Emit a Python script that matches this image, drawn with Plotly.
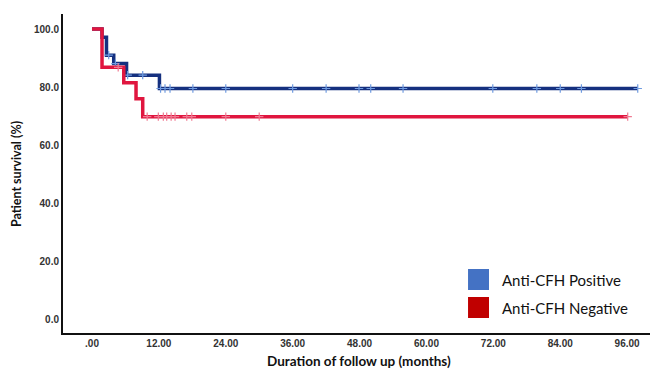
import plotly.graph_objects as go

# ---- data (months, survival %) ----
pos_event_times = [0.0, 1.8, 2.6, 3.9, 6.2, 12.1]
pos_survival = [100.0, 97.2, 91.0, 88.1, 84.1, 79.5]
pos_end_time = 97.9
pos_censor_times = [3.0, 4.2, 6.4, 9.1, 12.3, 13.1, 14.0, 18.1, 24.0, 36.0, 42.0,
                    47.9, 50.0, 55.8, 71.9, 79.8, 84.0, 87.8, 97.9]

neg_event_times = [0.0, 1.8, 5.7, 7.9, 9.1]
neg_survival = [100.0, 86.8, 81.5, 76.0, 69.8]
neg_end_time = 96.1
neg_censor_times = [4.7, 9.9, 11.9, 12.8, 13.4, 14.2, 14.9, 17.0, 17.9, 24.0, 30.0, 96.1]

x_tick_vals = [0, 12, 24, 36, 48, 60, 72, 84, 96]
x_tick_text = [".00", "12.00", "24.00", "36.00", "48.00", "60.00", "72.00", "84.00", "96.00"]
y_tick_vals = [0, 20, 40, 60, 80, 100]
y_tick_text = ["0.0", "20.0", "40.0", "60.0", "80.0", "100.0"]

legend_labels = ["Anti-CFH Positive", "Anti-CFH Negative"]
legend_colors = ["#4472C4", "#C00000"]


def surv_at(times, surv, t):
    val = surv[0]
    for ti, si in zip(times, surv):
        if t >= ti:
            val = si
    return val


fig = go.Figure()

groups = [
    (pos_event_times, pos_survival, pos_end_time, pos_censor_times, "#15307F", "#6F9BE0"),
    (neg_event_times, neg_survival, neg_end_time, neg_censor_times, "#E0163F", "#F07A92"),
]
for times, surv, end_t, cens, lc, cc in groups:
    xs = list(times) + [end_t]
    ys = list(surv) + [surv[-1]]
    fig.add_trace(go.Scatter(x=xs, y=ys, mode="lines", line=dict(color=lc, width=3.5, shape="hv"),
                             showlegend=False, hoverinfo="skip"))
    fig.add_trace(go.Scatter(x=cens, y=[surv_at(times, surv, t) for t in cens], mode="markers",
                             marker=dict(symbol="cross-thin", size=6, line=dict(color=cc, width=1.2)),
                             showlegend=False, hoverinfo="skip"))

# legend drawn as squares + text
sq_y = [(0.1348, 0.2006), (0.0470, 0.1129)]
txt_y = [0.1677, 0.0799]
for lab, col, (y0, y1), ty in zip(legend_labels, legend_colors, sq_y, txt_y):
    fig.add_shape(type="rect", xref="paper", yref="paper", x0=0.690, x1=0.7257, y0=y0, y1=y1,
                  fillcolor=col, line=dict(color=col, width=0))
    fig.add_annotation(x=0.7445, y=ty, xref="paper", yref="paper", text=lab, showarrow=False,
                       xanchor="left", yanchor="middle",
                       font=dict(family="Lato", size=15, color="#111111"))

# axis titles
fig.add_annotation(x=-0.079, y=0.497, xref="paper", yref="paper", text="Patient survival (%)",
                   textangle=-90, showarrow=False, xanchor="center", yanchor="middle",
                   font=dict(family="Lato", size=12.5, color="#111111", weight="bold"))
fig.add_annotation(x=0.505, y=-0.089, xref="paper", yref="paper", text="Duration of follow up (months)",
                   showarrow=False, xanchor="center", yanchor="middle",
                   font=dict(family="Lato", size=13.5, color="#111111", weight="bold"))

fig.update_layout(
    width=653, height=370,
    margin=dict(l=63, r=3, t=14, b=37, pad=0),
    paper_bgcolor="white", plot_bgcolor="white",
    xaxis=dict(range=[-5.2, 100.1], tickvals=x_tick_vals, ticktext=x_tick_text, automargin=False,
               showgrid=False, zeroline=False, showline=True, linecolor="#111111", linewidth=2,
               ticks="", tickfont=dict(family="Liberation Sans", size=10, color="#333333", weight="bold")),
    yaxis=dict(range=[-4.83, 105.2], tickvals=y_tick_vals, ticktext=y_tick_text, automargin=False,
               showgrid=False, zeroline=False, showline=True, linecolor="#111111", linewidth=2,
               ticks="", tickfont=dict(family="Liberation Sans", size=10, color="#333333", weight="bold")),
)

fig.write_html("out.html", config={"displayModeBar": False},
               post_script="document.body.style.margin='0';document.body.style.overflow='hidden';")
